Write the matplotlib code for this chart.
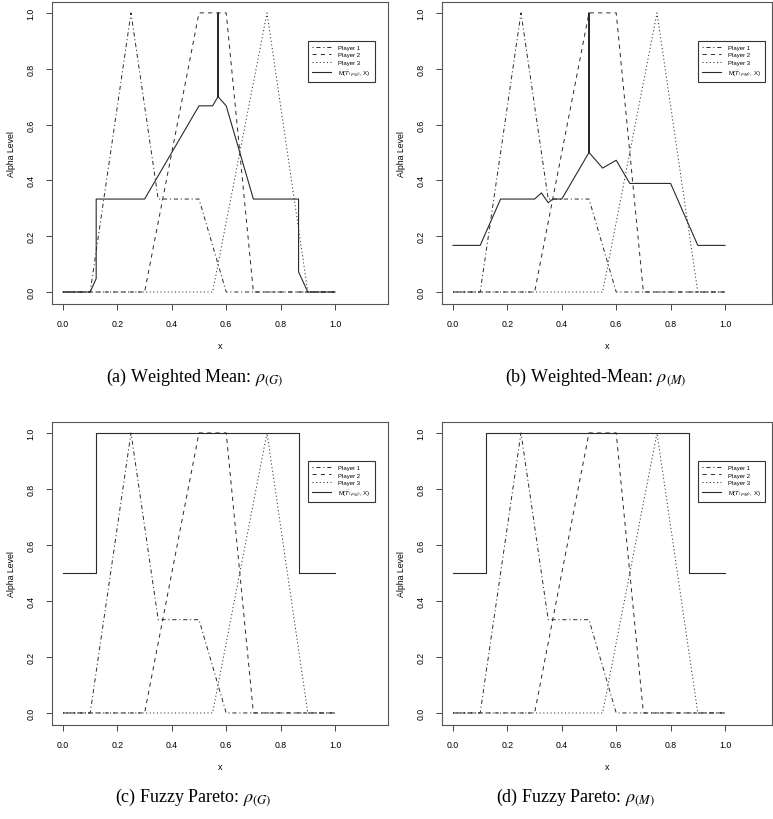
import numpy as np
import matplotlib
matplotlib.use("Agg")
import matplotlib.pyplot as plt

plt.rcParams['font.family'] = ['Liberation Sans', 'DejaVu Sans']
plt.rcParams['lines.scale_dashes'] = False

# membership functions of the three players (breakpoints)
x_p1 = [0.0, 0.1, 0.25, 0.35, 0.5, 0.6, 1.0]
y_p1 = [0.0, 0.0, 1.0, 0.333, 0.333, 0.0, 0.0]
x_p2 = [0.0, 0.3, 0.5, 0.6, 0.7, 1.0]
y_p2 = [0.0, 0.0, 1.0, 1.0, 0.0, 0.0]
x_p3 = [0.0, 0.55, 0.75, 0.9, 1.0]
y_p3 = [0.0, 0.0, 1.0, 0.0, 0.0]

# aggregated results M(T, X)
x_ma = [0.0, 0.1, 0.122, 0.122, 0.3, 0.5, 0.55, 0.57, 0.57, 0.57, 0.6, 0.7, 0.866, 0.866, 0.9, 1.0]
y_ma = [0.0, 0.0, 0.048, 0.333, 0.333, 0.667, 0.667, 0.7, 1.0, 0.7, 0.667, 0.333, 0.333, 0.072, 0.0, 0.0]
x_mb = [0.0, 0.1, 0.175, 0.3, 0.325, 0.35, 0.367, 0.4, 0.5, 0.5, 0.5, 0.55, 0.6, 0.65, 0.8, 0.9, 1.0]
y_mb = [0.167, 0.167, 0.333, 0.333, 0.355, 0.32, 0.333, 0.333, 0.5, 1.0, 0.5, 0.444, 0.472, 0.389, 0.389, 0.167, 0.167]
x_mc = [0.0, 0.122, 0.122, 0.866, 0.866, 1.0]
y_mc = [0.5, 0.5, 1.0, 1.0, 0.5, 0.5]
x_md = x_mc
y_md = y_mc

captions = [r'(a) Weighted Mean: $\rho_{(G)}$', r'(b) Weighted-Mean: $\rho_{(M)}$',
            r'(c) Fuzzy Pareto: $\rho_{(G)}$', r'(d) Fuzzy Pareto: $\rho_{(M)}$']
mlabels = [r'M($\tilde{T}_{(\rho_{(G)})}$, X)', r'M($\tilde{T}_{(\rho_{(M)})}$, X)',
           r'M($\tilde{T}_{(\rho_{(G)})}$, X)', r'M($\tilde{T}_{(\rho_{(M)})}$, X)']
ticks = [0.0, 0.2, 0.4, 0.6, 0.8, 1.0]
tick_labels = ['0.0', '0.2', '0.4', '0.6', '0.8', '1.0']

W, H = 773, 820
fig = plt.figure(figsize=(W / 100, H / 100), dpi=100)

# panel boxes in pixels: left, right, top, bottom
boxes = [(52, 388, 3, 305), (442, 772, 3, 305), (52, 388, 423, 726), (442, 772, 423, 726)]
cap_pos = [(195, 382), (596, 382), (193, 802), (575, 802)]
m_data = [(x_ma, y_ma), (x_mb, y_mb), (x_mc, y_mc), (x_md, y_md)]

col = '#2a2a2a'
lw = 0.7
for i in range(4):
    l, r, t, b = boxes[i]
    ax = fig.add_axes([l / W, (H - b) / H, (r - l) / W, (b - t) / H])
    ax.plot(x_p1, y_p1, color=col, lw=lw, dashes=(0.8, 2.0, 3.0, 2.0), label='Player 1')
    ax.plot(x_p2, y_p2, color=col, lw=lw, dashes=(3.0, 3.0), label='Player 2')
    ax.plot(x_p3, y_p3, color=col, lw=lw, dashes=(0.8, 1.8), label='Player 3')
    mx, my = m_data[i]
    ax.plot(mx, my, color=col, lw=0.8, label=mlabels[i])

    # data 0 -> 11 px right of box, 272 px per unit
    ax.set_xlim(-11 / 272, (r - l - 11) / 272)
    ax.set_ylim(-0.043, 1.039)
    ax.set_xticks(ticks)
    ax.set_xticklabels(tick_labels, fontsize=6.3)
    ax.set_yticks(ticks)
    ax.set_yticklabels(tick_labels, fontsize=6.3, rotation=90, va='center')
    ax.tick_params(direction='out', length=4, width=0.7, color='#444444')
    ax.tick_params(axis='x', pad=7)
    ax.tick_params(axis='y', pad=8)
    for s in ax.spines.values():
        s.set_color('#555555')
        s.set_linewidth(0.8)

    ax.set_xlabel('x', fontsize=6.5)
    ax.xaxis.set_label_coords(0.5, -0.137)
    ax.xaxis.label.set_va('center')
    ax.set_ylabel('Alpha Level', fontsize=6.3)
    ax.yaxis.set_label_coords(-40 / (r - l), 0.5)
    ax.yaxis.label.set_va('center')

    leg = ax.legend(loc='upper left', bbox_to_anchor=(0.9, 0.9), bbox_transform=ax.transData,
                    borderaxespad=0, fontsize=4.3, fancybox=False, framealpha=1,
                    handlelength=3.2, handletextpad=1.2, labelspacing=0.35,
                    borderpad=0.7)
    leg.get_frame().set_edgecolor('#333333')
    leg.get_frame().set_linewidth(0.8)

    cx, cy = cap_pos[i]
    fig.text(cx / W, 1 - cy / H, captions[i], ha='center', va='baseline', fontsize=13,
             family=['Liberation Serif', 'DejaVu Serif'], math_fontfamily='stix')

fig.savefig('out.png', dpi=100)
